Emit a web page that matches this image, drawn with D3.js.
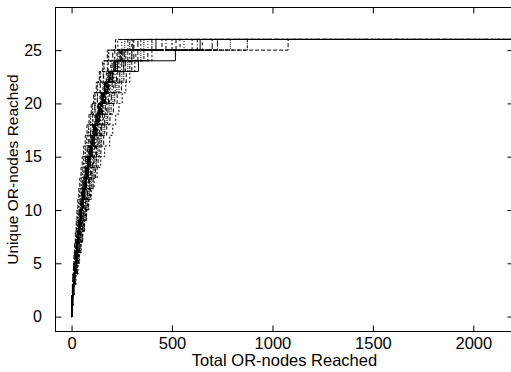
<!DOCTYPE html>
<html>
<head>
<meta charset="utf-8">
<script src="https://cdn.jsdelivr.net/npm/d3@7"></script>
<style>
  html, body { margin: 0; padding: 0; background: #fff; }
  svg { display: block; }
  text { font-family: "Liberation Sans", Arial, sans-serif; fill: #000; }
</style>
</head>
<body>
<svg id="chart" width="511" height="372"></svg>
<script>
// Unique OR-nodes count (0..26) reached at each total-node count, one array per run
const levels = d3.range(0, 27);
const xTicks = [0, 500, 1000, 1500, 2000];
const yTicks = [0, 5, 10, 15, 20, 25];

const run01 = [0,1,2,4,6,9,12,15,19,23,27,31,36,41,47,53,60,68,77,87,98,110,123,138,155,178,219];
const run02 = [0,1,2,4,7,11,14,18,22,26,31,36,41,47,53,60,67,75,84,94,105,117,130,145,162,185,230];
const run03 = [0,1,3,5,8,12,16,20,25,29,34,39,44,50,56,63,70,78,86,95,105,116,128,142,160,185,250];
const run04 = [0,1,3,6,9,14,18,23,28,33,38,44,50,56,63,70,78,86,95,105,116,128,142,158,178,205,280];
const run05 = [0,2,4,7,11,16,21,26,32,37,43,49,55,62,69,77,86,95,105,116,128,141,156,173,195,226,300];
const run06 = [0,1,3,6,10,15,20,26,32,38,44,51,58,66,74,83,93,103,114,126,139,153,169,188,212,250,330];
const run07 = [0,2,4,7,12,18,23,29,35,41,48,55,62,70,79,88,98,109,120,132,146,160,176,196,222,262,360];
const run08 = [0,1,3,6,11,17,22,28,34,41,48,55,63,72,81,91,102,113,125,138,152,167,184,204,230,270,400];
const run09 = [0,2,4,8,13,19,25,31,38,45,52,59,66,74,83,92,102,113,124,137,150,165,182,202,228,280,450];
const run10 = [0,1,3,7,12,18,24,30,37,44,51,58,66,75,84,94,105,117,130,143,157,172,190,210,236,290,500];
const run11 = [0,2,5,8,13,20,26,33,40,47,55,63,71,80,89,99,110,122,134,147,161,177,195,216,242,300,560];
const run12 = [0,2,4,8,14,21,28,35,42,50,58,66,75,84,94,104,115,127,140,154,168,184,202,224,250,310,626];
const run13 = [0,2,5,9,15,22,29,36,44,52,60,69,78,88,98,109,120,132,145,158,173,190,208,230,258,320,651];
const run14 = [0,2,5,10,16,23,30,38,46,54,62,71,80,90,101,112,124,137,150,165,181,198,217,240,268,330,726];
const run15 = [0,3,6,10,17,25,32,40,48,57,66,75,85,95,106,118,130,143,157,172,188,206,226,250,280,345,790];
const run16 = [0,3,6,11,18,27,34,42,51,60,69,79,89,100,112,124,137,150,165,180,197,215,236,260,290,360,875];
const run17 = [0,3,7,12,20,29,37,46,55,64,74,84,95,107,119,132,146,160,175,191,208,227,248,272,300,380,1078];
const run18 = [0,3,7,13,22,32,40,48,56,65,75,86,98,112,127,145,165,190,205,220,236,252,270,290,315,400,600];
const run19 = [0,1,3,6,10,16,21,27,33,40,47,54,61,69,77,86,96,106,118,130,143,158,178,205,333,517,640];
const run20 = [0,1,2,5,9,14,19,24,30,36,42,48,55,62,70,79,88,98,109,121,134,148,164,182,260,300,420];
const run21 = [0,1,3,5,9,13,17,22,27,32,37,43,49,55,62,70,78,87,96,106,117,129,143,160,182,215,520];
const run22 = [0,2,4,7,11,17,22,28,34,40,47,54,61,69,77,86,95,105,116,128,141,155,172,192,218,255,700];
const run23 = [0,1,3,6,10,15,19,24,29,35,41,47,53,60,68,76,85,95,106,118,131,145,160,177,198,230,265];
const run24 = [0,2,4,7,12,17,22,27,33,39,45,52,59,67,75,84,94,104,115,127,140,154,170,188,210,240,290];
const run25 = [0,1,3,6,10,16,22,28,35,42,49,57,65,73,82,91,101,112,124,136,149,163,179,197,219,247,310];
const run26 = [0,2,4,8,13,18,23,29,35,42,49,56,64,72,81,90,100,111,122,134,147,161,177,195,216,244,345];
const run27 = [0,1,3,6,11,16,21,27,33,39,46,53,60,68,76,85,95,105,116,128,141,156,172,190,213,243,380];
const run28 = [0,2,4,7,11,16,21,26,31,37,43,50,57,64,72,81,90,100,111,123,136,150,166,184,206,236,470];
const run29 = [0,1,3,6,10,15,20,26,32,38,45,52,59,67,76,85,95,106,118,131,145,160,176,194,216,248,540];
const run30 = [0,2,4,7,12,18,24,30,36,43,50,58,66,74,83,93,104,115,127,140,154,169,186,205,228,262,305];

const runs = [run01, run02, run03, run04, run05, run06, run07, run08, run09, run10,
              run11, run12, run13, run14, run15, run16, run17, run18, run19, run20,
              run21, run22, run23, run24, run25, run26, run27, run28, run29, run30];
const runEnd = 2200; // every run stays at 26 until the end of the plotted range

// gnuplot-like line types
const dashes = ["4,2", "2,2", "1,2", "5,2,1,2", "3,3", "6,2", "1,1", "3,1,1,1"];
const solidRuns = [18, 19];

const svg = d3.select('#chart');
const plot = { left: 55.5, right: 513.5, top: 7.5, bottom: 331.5 };

const x = d3.scaleLinear().domain([-80, 2200]).range([plot.left, plot.right]);
const y = d3.scaleLinear().domain([-1.4, 29]).range([plot.bottom, plot.top]);

// runs
const line = d3.line()
    .x(d => x(d[0]))
    .y(d => y(d[1]))
    .curve(d3.curveStepAfter);

const runG = svg.append('g').attr('class', 'runs');
runs.forEach((run, i) => {
    const pts = run.map((t, k) => [t, levels[k]]);
    pts.push([runEnd, levels[levels.length - 1]]);
    runG.append('path')
        .datum(pts)
        .attr('d', line)
        .attr('fill', 'none')
        .attr('stroke', '#000')
        .attr('stroke-width', 1)
        .attr('stroke-dasharray', solidRuns.includes(i) ? null : dashes[i % dashes.length]);
});

// frame + mirrored inward ticks
const tickLen = 6;
const xAxisB = d3.axisBottom(x).tickValues(xTicks).tickFormat(d3.format('d'))
    .tickSizeInner(-tickLen).tickSizeOuter(0).tickPadding(6);
const xAxisT = d3.axisTop(x).tickValues(xTicks).tickSizeInner(-tickLen).tickSizeOuter(0).tickFormat('');
const yAxisL = d3.axisLeft(y).tickValues(yTicks).tickFormat(d3.format('d'))
    .tickSizeInner(-tickLen).tickSizeOuter(0).tickPadding(13.5);
const yAxisR = d3.axisRight(y).tickValues(yTicks).tickSizeInner(-tickLen).tickSizeOuter(0).tickFormat('');

const gxB = svg.append('g').attr('transform', `translate(0,${plot.bottom})`).call(xAxisB);
svg.append('g').attr('transform', `translate(0,${plot.top})`).call(xAxisT);
const gyL = svg.append('g').attr('transform', `translate(${plot.left},0)`).call(yAxisL);
svg.append('g').attr('transform', `translate(${plot.right},0)`).call(yAxisR);

svg.selectAll('.domain').remove();
svg.selectAll('.tick line').attr('stroke', '#000');
gxB.selectAll('.tick text').style('font-size', '16.5px').attr('fill', '#000');
gyL.selectAll('.tick text').style('font-size', '16px').attr('fill', '#000');

svg.append('rect')
    .attr('x', plot.left)
    .attr('y', plot.top)
    .attr('width', plot.right - plot.left)
    .attr('height', plot.bottom - plot.top)
    .attr('fill', 'none')
    .attr('stroke', '#000')
    .attr('stroke-width', 1);

// axis titles
svg.append('text')
    .attr('x', (plot.left + plot.right) / 2)
    .attr('y', 365.5)
    .attr('text-anchor', 'middle')
    .style('font-size', '16.5px')
    .text('Total OR-nodes Reached');

svg.append('text')
    .attr('transform', `translate(18,${(plot.top + plot.bottom) / 2}) rotate(-90)`)
    .attr('text-anchor', 'middle')
    .style('font-size', '15.5px')
    .text('Unique OR-nodes Reached');
</script>
</body>
</html>
